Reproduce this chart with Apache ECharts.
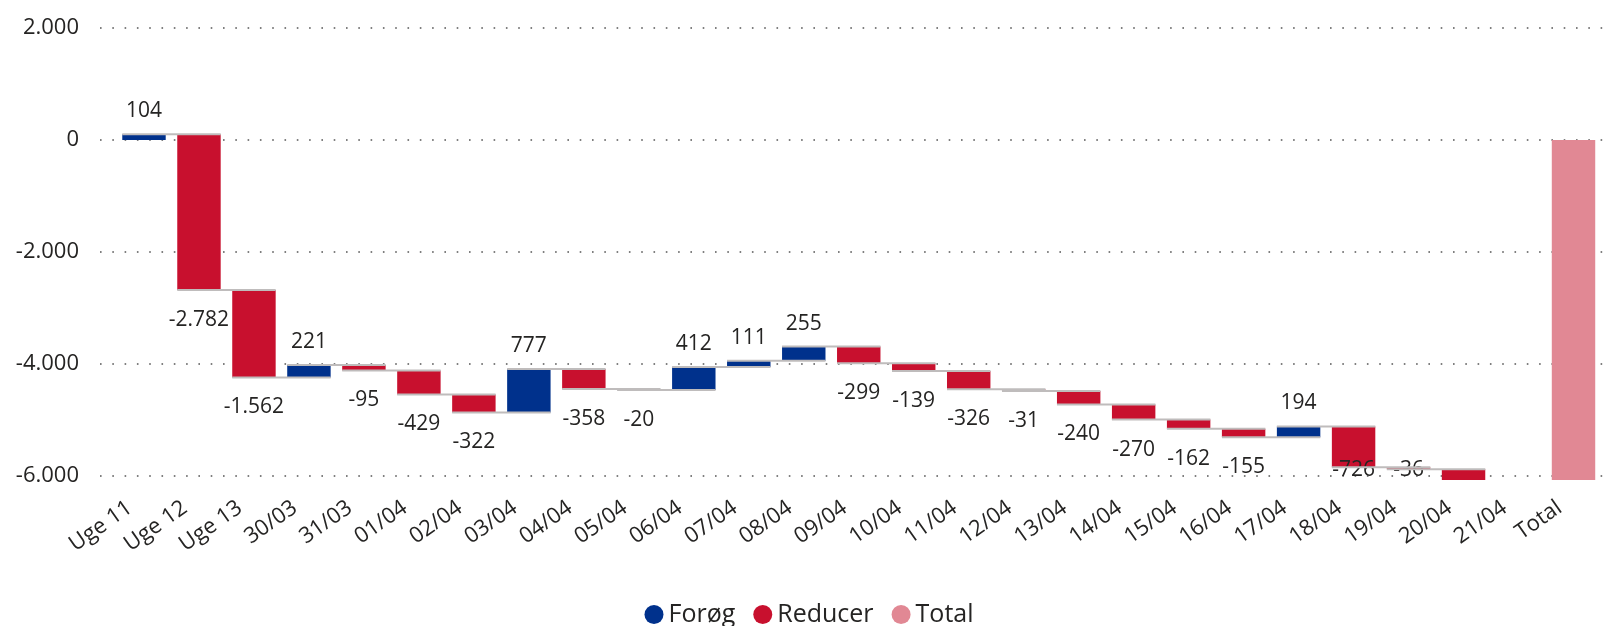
<!DOCTYPE html>
<html>
<head>
<meta charset="utf-8">
<title>Waterfall</title>
<script src="https://cdn.jsdelivr.net/npm/echarts@6/dist/echarts.min.js"></script>
<style>
  html, body { margin: 0; padding: 0; background: #fff; }
  #chart { width: 1618px; height: 626px; }
</style>
</head>
<body>
<div id="chart"></div>
<script>
// kategorier langs x-aksen
const categories = ['Uge 11', 'Uge 12', 'Uge 13', '30/03', '31/03', '01/04', '02/04', '03/04', '04/04', '05/04',
    '06/04', '07/04', '08/04', '09/04', '10/04', '11/04', '12/04', '13/04', '14/04', '15/04',
    '16/04', '17/04', '18/04', '19/04', '20/04', '21/04', 'Total'];
// ændring pr. periode (21/04 har ingen værdi)
const changes = [104, -2782, -1562, 221, -95, -429, -322, 777, -358, -20,
    412, 111, 255, -299, -139, -326, -31, -240, -270, -162,
    -155, 194, -726, -36, -193, null];
const yTicks = [-6000, -4000, -2000, 0, 2000];

const blue = '#00318c';
const red = '#c8102e';
const pink = '#e18894';
const font = 'Open Sans';

function fmt(v) {
    const s = String(Math.abs(Math.round(v))).replace(/\B(?=(\d{3})+(?!\d))/g, '.');
    return (v < 0 ? '-' : '') + s;
}

// byg start/slut for hver søjle
let run = 0;
const upData = [], downData = [], totalData = [], links = [];
changes.forEach((c, i) => {
    if (c == null) return;
    const start = run;
    run += c;
    if (c >= 0) upData.push([i, start, run, c]);
    else downData.push([i, start, run, c]);
    if (i < changes.length - 2) links.push([i, run]);
});
totalData.push([categories.length - 1, 0, run, run]);

const barRatio = 0.79;

function barItem(showLabel) {
    return function (params, api) {
        const i = api.value(0);
        const p1 = api.coord([i, api.value(1)]);
        const p2 = api.coord([i, api.value(2)]);
        const band = api.size([1, 0])[0];
        const bw = band * barRatio;
        const top = Math.min(p1[1], p2[1]);
        const h = Math.max(Math.abs(p1[1] - p2[1]), 1);
        const children = [{
            type: 'rect',
            shape: { x: p1[0] - bw / 2, y: top, width: bw, height: h },
            style: { fill: api.visual('color') }
        }];
        if (showLabel) {
            const d = api.value(3);
            const bottomY = api.coord([i, yTicks[0]])[1];
            let ty;
            if (d >= 0) ty = top - 23;
            else ty = Math.min(top + h + 30, bottomY - 6);
            // skjul etiket hvis den ikke kan stå under søjlen
            const hide = d < 0 && top + h > ty;
            if (!hide) {
                children.push({
                    type: 'text',
                    style: {
                        x: p1[0], y: ty, text: fmt(d),
                        align: 'center', verticalAlign: 'middle',
                        fill: '#252423', font: '21px "' + font + '"'
                    },
                    z2: 5
                });
            }
        }
        return { type: 'group', children: children };
    };
}

const chart = echarts.init(document.getElementById('chart'));

chart.setOption({
    animation: false,
    textStyle: { fontFamily: font },
    grid: [
        { left: 116.5, right: 17, top: 28, bottom: 150 },
        { left: 100, right: 8, top: 28, bottom: 150 }
    ],
    legend: {
        data: ['Forøg', 'Reducer', 'Total'],
        left: 'center',
        top: 597,
        icon: 'circle',
        itemWidth: 19,
        itemHeight: 19,
        itemGap: 18,
        textStyle: { fontSize: 25, color: '#252423', fontFamily: font }
    },
    xAxis: [
        {
            type: 'category',
            gridIndex: 0,
            data: categories,
            axisLine: { show: false },
            axisTick: { show: false },
            axisLabel: {
                interval: 0,
                rotate: 35,
                margin: 20,
                padding: [0, 17, 0, 0],
                fontSize: 22,
                color: '#252423',
                fontFamily: font
            }
        },
        { type: 'value', gridIndex: 1, show: false }
    ],
    yAxis: [
        {
            type: 'value', gridIndex: 0,
            min: -6000, max: 2000, interval: 2000,
            show: false
        },
        {
            type: 'value', gridIndex: 1,
            min: -6000, max: 2000, interval: 2000,
            axisLine: { show: false },
            axisTick: { show: false },
            axisLabel: {
                margin: 21, fontSize: 22, color: '#252423', fontFamily: font,
                formatter: v => fmt(v)
            },
            splitLine: {
                lineStyle: { color: '#555', width: 1.6, type: [1.6, 10.7] }
            }
        }
    ],
    series: [
        {
            name: 'Forøg', type: 'custom', xAxisIndex: 0, yAxisIndex: 0,
            itemStyle: { color: blue }, renderItem: barItem(true),
            encode: { x: 0, y: [1, 2] }, data: upData, z: 2
        },
        {
            name: 'Reducer', type: 'custom', xAxisIndex: 0, yAxisIndex: 0,
            itemStyle: { color: red }, renderItem: barItem(true),
            encode: { x: 0, y: [1, 2] }, data: downData, z: 2
        },
        {
            name: 'Total', type: 'custom', xAxisIndex: 0, yAxisIndex: 0,
            itemStyle: { color: pink }, renderItem: barItem(false),
            encode: { x: 0, y: [1, 2] }, data: totalData, z: 2
        },
        {
            name: 'forbindelse', type: 'custom', xAxisIndex: 0, yAxisIndex: 0,
            silent: true, z: 3,
            renderItem: function (params, api) {
                const i = api.value(0);
                const p = api.coord([i, api.value(1)]);
                const band = api.size([1, 0])[0];
                const bw = band * barRatio;
                return {
                    type: 'line',
                    shape: { x1: p[0] - bw / 2, y1: p[1], x2: p[0] + band + bw / 2, y2: p[1] },
                    style: { stroke: '#bfbcbc', lineWidth: 2 }
                };
            },
            encode: { x: 0, y: 1 },
            data: links
        }
    ]
});
</script>
</body>
</html>
